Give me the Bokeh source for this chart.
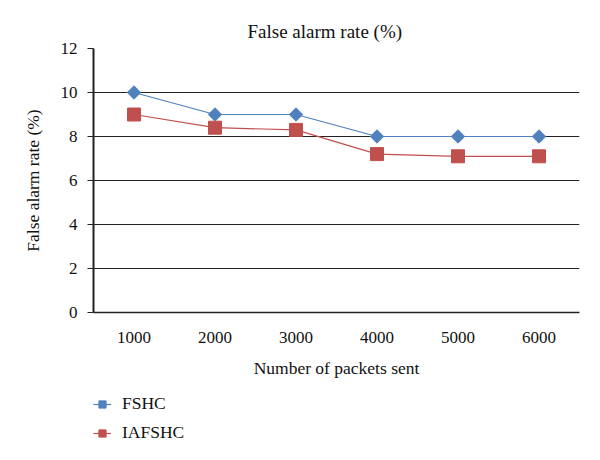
import math
from bokeh.plotting import figure
from bokeh.layouts import column
from bokeh.models import Range1d, FixedTicker, Legend, LegendItem
from bokeh.embed import file_html
from bokeh.resources import INLINE

packets = [1000, 2000, 3000, 4000, 5000, 6000]
fshc = [10, 9, 9, 8, 8, 8]
iafshc = [9, 8.4, 8.3, 7.2, 7.1, 7.1]
y_ticks = [0, 2, 4, 6, 8, 10, 12]
series_names = ["FSHC", "IAFSHC"]

FONT = "Liberation Serif"
BLUE = "#4F81BD"
RED = "#C0504D"

p = figure(width=584, height=380, output_backend="svg", toolbar_location=None,
           x_range=Range1d(500, 6500), y_range=Range1d(0, 12),
           title="False alarm rate (%)",
           min_border_left=93, min_border_right=5, min_border_top=48, min_border_bottom=64)

p.title.align = "left"
p.title.offset = 154
p.title.text_font = FONT
p.title.text_font_size = "19px"
p.title.text_font_style = "normal"
p.title.text_color = "#111111"
p.title.standoff = 13
p.outline_line_color = None

# x axis
p.xaxis.ticker = FixedTicker(ticks=packets)
p.xaxis.axis_label = "Number of packets sent"
p.xaxis.major_tick_line_color = None
p.xaxis.minor_tick_line_color = None
p.xaxis.axis_line_color = "#222222"
p.xaxis.axis_line_width = 1.5
p.xaxis.major_label_standoff = 13
p.xaxis.axis_label_standoff = 12

# y axis
p.yaxis.ticker = FixedTicker(ticks=y_ticks)
p.yaxis.axis_label = "False alarm rate (%)"
p.yaxis.minor_tick_line_color = None
p.yaxis.major_tick_out = 6
p.yaxis.major_tick_in = 0
p.yaxis.major_tick_line_color = "#222222"
p.yaxis.axis_line_color = "#222222"
p.yaxis.axis_line_width = 2
p.yaxis.major_label_standoff = 10
p.yaxis.axis_label_standoff = 15

for ax in (p.xaxis[0], p.yaxis[0]):
    ax.major_label_text_font = FONT
    ax.major_label_text_font_size = "17px"
    ax.major_label_text_color = "#111111"
    ax.axis_label_text_font = FONT
    ax.axis_label_text_font_size = "17.5px"
    ax.axis_label_text_font_style = "normal"
    ax.axis_label_text_color = "#111111"

p.xgrid.grid_line_color = None
p.ygrid.grid_line_color = "#222222"
p.ygrid.grid_line_width = 1.2

def draw(fig, xs, ys, color, marker, angle, size):
    rl = fig.line(xs, ys, line_color=color, line_width=1.2)
    rm = fig.scatter(xs, ys, marker=marker, angle=angle, size=size,
                     fill_color=color, line_color=color)
    return [rl, rm]

draw(p, packets, fshc, BLUE, "square", math.pi / 4, 9.5)
draw(p, packets, iafshc, RED, "square", 0, 13)

# legend figure placed below the chart (series drawn out of view, only legend shows)
lg = figure(width=584, height=64, output_backend="svg", toolbar_location=None,
            x_range=Range1d(-2, -1), y_range=Range1d(-2, -1),
            x_axis_location=None, y_axis_location=None,
            min_border=0)
lg.outline_line_color = None
lg.grid.grid_line_color = None
l1 = draw(lg, packets, fshc, BLUE, "square", math.pi / 4, 9.5)
l2 = draw(lg, packets, iafshc, RED, "square", 0, 13)

legend = Legend(items=[LegendItem(label=series_names[0], renderers=l1),
                       LegendItem(label=series_names[1], renderers=l2)],
                orientation="vertical", location=(0, 1))
legend.border_line_color = None
legend.background_fill_alpha = 0
legend.label_text_font = FONT
legend.label_text_font_size = "17.5px"
legend.label_text_color = "#111111"
legend.glyph_width = 18
legend.label_standoff = 11
legend.spacing = 8
legend.margin = 0
legend.padding = 0
lg.add_layout(legend, "center")

layout = column(p, lg, spacing=0)
open("out.html", "w").write(file_html(layout, INLINE))
